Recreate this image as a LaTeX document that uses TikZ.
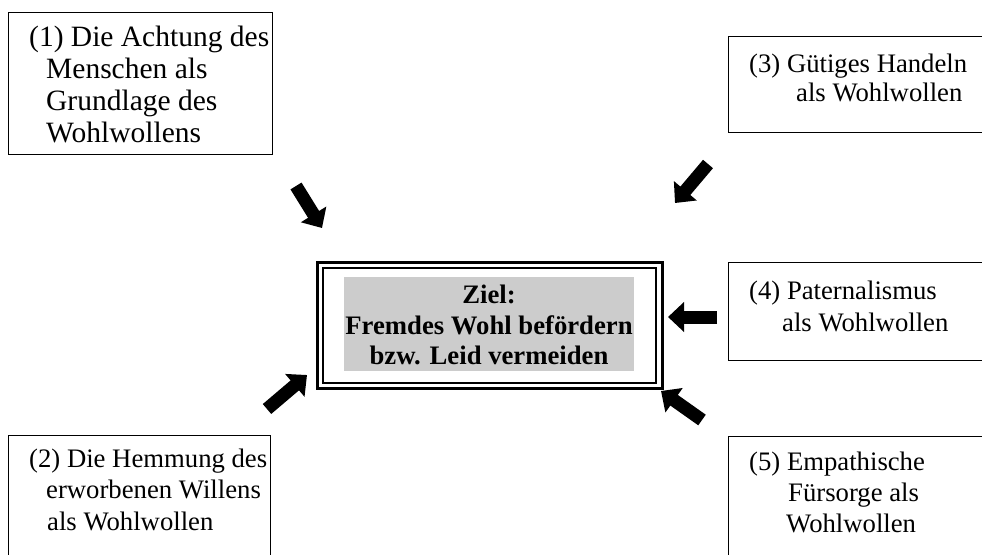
\documentclass[tikz,border=0pt]{standalone}
\usepackage{fontspec}
\setmainfont{Liberation Serif}
\usetikzlibrary{arrows.meta}
\tikzset{
  x=1pt, y=-1pt,
  box/.style={draw, line width=1.2pt, inner sep=0pt, anchor=north west},
  txt/.style={inner sep=0pt, anchor=base west, font=\fontsize{26.7}{30}\selectfont},
  bigtxt/.style={inner sep=0pt, anchor=base west, font=\fontsize{29.5}{32}\selectfont},
  goaltxt/.style={inner sep=0pt, anchor=base, font=\bfseries\fontsize{26.7}{30}\selectfont},
  blockarrow/.style={line width=13pt, -{Triangle[length=16pt,width=29pt]}}
}
\definecolor{goalgray}{RGB}{204,204,204}
\begin{document}
\begin{tikzpicture}
\useasboundingbox (0,0) rectangle (982,554);
\clip (0,0) rectangle (982,554);
\fill[white] (0,0) rectangle (982,554);

% boxes
\node[box, minimum width=264pt, minimum height=142pt] (b1) at (8,12) {};
\node[box, minimum width=262pt, minimum height=130pt] (b2) at (8,435) {};
\node[box, minimum width=270pt, minimum height=96pt] (b3) at (728,36) {};
\node[box, minimum width=270pt, minimum height=98pt] (b4) at (728,262) {};
\node[box, minimum width=270pt, minimum height=130pt] (b5) at (728,436) {};

% goal box
\node[draw, line width=2.5pt, inner sep=0pt, anchor=north west, minimum width=345pt, minimum height=126pt] (gout) at (316,261) {};
\node[draw, line width=1.5pt, inner sep=0pt, anchor=north west, minimum width=333pt, minimum height=115pt] (gin) at (322,267) {};
\node[fill=goalgray, inner sep=0pt, anchor=north west, minimum width=290pt, minimum height=94pt] (gfill) at (344,277) {};
\node[goaltxt] (g1) at (489,303) {Ziel:};
\node[goaltxt] (g2) at (489,334) {Fremdes Wohl befördern};
\node[goaltxt] (g3) at (489,364) {bzw. Leid vermeiden};

% texts
\node[bigtxt] (t1a) at (29,46) {(1) Die Achtung des};
\node[bigtxt] (t1b) at (46,78) {Menschen als};
\node[bigtxt] (t1c) at (46,110) {Grundlage des};
\node[bigtxt] (t1d) at (46,142) {Wohlwollens};

\node[txt] (t2a) at (29,467) {(2) Die Hemmung des};
\node[txt] (t2b) at (46,498) {erworbenen Willens};
\node[txt] (t2c) at (47,530) {als Wohlwollen};

\node[txt] (t3a) at (749,72) {(3) Gütiges Handeln};
\node[txt] (t3b) at (796,101) {als Wohlwollen};

\node[txt] (t4a) at (749,299) {(4) Paternalismus};
\node[txt] (t4b) at (782,331) {als Wohlwollen};

\node[txt] (t5a) at (749,470) {(5) Empathische};
\node[txt] (t5b) at (788,501) {Fürsorge als};
\node[txt] (t5c) at (786,532) {Wohlwollen};

% arrows
\coordinate (a1s) at (296,186); \coordinate (a1e) at (322,228);
\coordinate (a2s) at (267,409); \coordinate (a2e) at (307,375);
\coordinate (a3s) at (708,164); \coordinate (a3e) at (675,203);
\coordinate (a4s) at (717,317); \coordinate (a4e) at (668,317);
\coordinate (a5s) at (702,420); \coordinate (a5e) at (661,391);
\draw[blockarrow] (a1s) -- (a1e);
\draw[blockarrow] (a2s) -- (a2e);
\draw[blockarrow] (a3s) -- (a3e);
\draw[blockarrow] (a4s) -- (a4e);
\draw[blockarrow] (a5s) -- (a5e);
\end{tikzpicture}
\end{document}
